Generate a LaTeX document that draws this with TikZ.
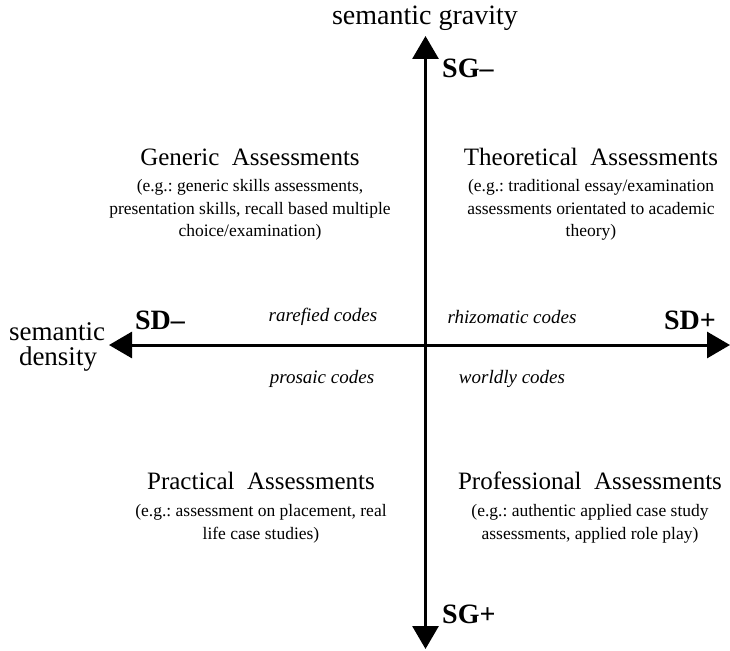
\documentclass[tikz,border=0pt]{standalone}
\usepackage{fontspec}
\setmainfont{Liberation Serif}
\usetikzlibrary{arrows.meta}
\frenchspacing
\begin{document}
\begin{tikzpicture}[x=1pt,y=-1pt,
  axis/.style={line width=3pt,-{Triangle[width=26pt,length=23pt]}},
  axislabel/.style={font=\fontsize{28}{30}\selectfont,inner sep=0pt},
  sidelabel/.style={font=\fontsize{27}{29}\selectfont,inner sep=0pt},
  pole/.style={font=\bfseries\fontsize{28}{30}\selectfont,inner sep=0pt},
  code/.style={font=\itshape\fontsize{19}{22}\selectfont,inner sep=0pt},
  title/.style={font=\fontsize{25}{28}\selectfont,inner sep=0pt},
  body/.style={font=\fontsize{17.5}{22.5}\selectfont,align=center,inner sep=0pt}]
  \useasboundingbox (0,0) rectangle (730,650);

  % axes
  \coordinate (origin) at (425.5,345);
  \coordinate (top) at (425.5,36);
  \coordinate (bottom) at (425.5,649);
  \coordinate (left) at (109,345);
  \coordinate (right) at (730,345);
  \draw[axis] (origin) -- (top);
  \draw[axis] (origin) -- (bottom);
  \draw[axis] (origin) -- (left);
  \draw[axis] (origin) -- (right);

  % axis names
  \node[axislabel] (sgname) at (425,18) {semantic gravity};
  \node[sidelabel,anchor=base] (sdname) at (57,340) {semantic};
  \node[sidelabel,anchor=base] (sdname2) at (58,365) {density};

  % poles
  \node[pole,anchor=west] (sgminus) at (442,68) {SG–};
  \node[pole,anchor=west] (sgplus) at (442,614) {SG+};
  \node[pole] (sdminus) at (160,320) {SD–};
  \node[pole] (sdplus) at (690,320) {SD+};

  % codes
  \node[code] (rarefied) at (323,317) {rarefied codes};
  \node[code] (rhizomatic) at (512,317) {rhizomatic codes};
  \node[code] (prosaic) at (322,379) {prosaic codes};
  \node[code] (worldly) at (512,379) {worldly codes};

  % quadrant descriptions
  \node[title] (generic) at (250,157) {Generic\ \ Assessments};
  \node[body] (genericbody) at (250,210) {(e.g.: generic skills assessments,\\presentation skills, recall based multiple\\choice/examination)};

  \node[title] (theoretical) at (591,157) {Theoretical\ \ Assessments};
  \node[body] (theoreticalbody) at (591,210) {(e.g.: traditional essay/examination\\assessments orientated to academic\\theory)};

  \node[title] (practical) at (261,481) {Practical\ \ Assessments};
  \node[body] (practicalbody) at (261,524) {(e.g.: assessment on placement, real\\life case studies)};

  \node[title] (professional) at (590,481) {Professional\ \ Assessments};
  \node[body] (professionalbody) at (590,524) {(e.g.: authentic applied case study\\assessments, applied role play)};
\end{tikzpicture}
\end{document}
